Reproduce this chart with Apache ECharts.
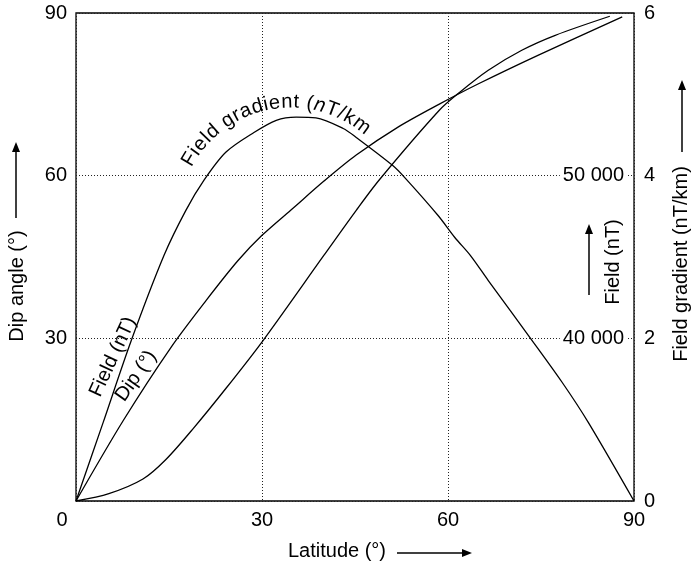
<!DOCTYPE html>
<html><head><meta charset="utf-8">
<script src="https://cdn.jsdelivr.net/npm/echarts@6/dist/echarts.min.js"></script>
<style>html,body{margin:0;padding:0;background:#fff}#c{width:695px;height:569px}</style>
</head><body><div id="c"></div>
<script>
const FONT = '"Liberation Sans", Arial, Helvetica, sans-serif';

// Tick values
const latTicks = [0, 30, 60, 90];
const dipTicks = [0, 30, 60, 90];
const gradTicks = [0, 2, 4, 6];
const fieldTicks = [40000, 50000];

// Field gradient (nT/km) vs latitude
const gradLat = [0, 4.4, 8.9, 14.2, 17.7, 20.7, 24.2, 28.7, 32.3, 35.5, 38.7, 43.1, 45.2, 51.0, 53.1, 58.4, 61.1, 63.6, 66.5, 73.6, 78.4, 82.6, 90];
const gradVal = [0, 0.97, 1.97, 3.02, 3.57, 3.95, 4.29, 4.53, 4.68, 4.72, 4.71, 4.58, 4.47, 4.13, 3.97, 3.51, 3.24, 3.02, 2.71, 1.97, 1.46, 0.97, 0];

// Dip angle (deg) vs latitude
const dipLat = [0, 7.6, 15.3, 21.0, 26.1, 30.0, 35.0, 40.0, 45.2, 52.0, 58.6, 65.0, 74.5, 88.1];
const dipVal = [0, 14.8, 28.3, 37.0, 44.3, 49.0, 54.0, 59.0, 63.8, 69.0, 73.2, 77.0, 82.2, 89.3];

// Field (nT) vs latitude
const fieldLat = [0, 5.3, 10.8, 14.5, 18.9, 24.2, 30.2, 40.0, 45.2, 49.0, 58.6, 61.9, 66.5, 71.9, 77.3, 86.1];
const fieldVal = [30000, 30450, 31350, 32550, 34450, 36930, 39880, 45110, 47870, 49780, 54020, 55130, 56480, 57710, 58630, 59800];

const pairs = (xs, ys) => xs.map((x, i) => [x, ys[i]]);
const lineStyle = { color: '#000', width: 1.3 };
const lab = { color: '#000', fontSize: 20, fontFamily: FONT };
const dotted = { show: true, lineStyle: { color: '#222', width: 1, type: [1, 2] } };
const fmtNum = v => String(v).replace(/\B(?=(\d{3})+(?!\d))/g, ' ');

function txt(text, x, y, rotDeg, extra) {
  return Object.assign({
    type: 'text', x: x, y: y, rotation: rotDeg * Math.PI / 180, silent: true,
    style: { text: text, fill: '#000', fontSize: 20, fontFamily: FONT, align: 'center', verticalAlign: 'middle' }
  }, extra || {});
}
function arrow(x1, y1, x2, y2) {
  const dx = x2 - x1, dy = y2 - y1, L = Math.hypot(dx, dy), ux = dx / L, uy = dy / L;
  const hl = 10, hw = 4;
  const bx = x2 - ux * hl, by = y2 - uy * hl;
  return [
    { type: 'line', silent: true, shape: { x1: x1, y1: y1, x2: bx, y2: by }, style: { stroke: '#000', lineWidth: 1.5 } },
    { type: 'polygon', silent: true, shape: { points: [[x2, y2], [bx - uy * hw, by + ux * hw], [bx + uy * hw, by - ux * hw]] }, style: { fill: '#000' } }
  ];
}

// Curved label along the gradient curve
function arcText(str, cx, cy, R, a0, a1, fontSize) {
  const ctx = document.createElement('canvas').getContext('2d');
  const els = [];
  const fonts = [];
  const widths = [];
  for (let i = 0; i < str.length; i++) {
    const italic = (str[i] === 'n' && str[i - 1] === '(');
    const f = (italic ? 'italic ' : '') + fontSize + 'px ' + FONT;
    ctx.font = f;
    fonts.push(italic);
    widths.push(ctx.measureText(str[i]).width);
  }
  const total = widths.reduce((a, b) => a + b, 0);
  const arcLen = (a1 - a0) * R;
  const extra = (arcLen - total) / (str.length - 1);
  let s = 0;
  for (let i = 0; i < str.length; i++) {
    const sc = s + widths[i] / 2;
    const th = a0 + sc / R;
    const rr = R + 6.5;
    els.push({
      type: 'text', silent: true,
      x: cx + rr * Math.cos(th), y: cy + rr * Math.sin(th),
      rotation: -(th + Math.PI / 2),
      style: { text: str[i], fill: '#000', fontSize: fontSize, fontFamily: FONT, fontStyle: fonts[i] ? 'italic' : 'normal', align: 'center', verticalAlign: 'middle' }
    });
    s += widths[i] + extra;
  }
  return els;
}

const cx = 291, cy = 220, R = 111.5;
const a0 = Math.atan2(168 - cy, 192 - cx);
const a1 = Math.atan2(135 - cy, 365 - cx);

const graphic = [].concat(
  [txt('Dip angle (°)', 17, 286, 90)],
  arrow(16, 218, 16, 142),
  [txt('Latitude (°)', 337, 551, 0)],
  arrow(397, 553, 472, 553),
  [txt('Field gradient (nT/km)', 681, 264, 90)],
  arrow(682, 152, 682, 80),
  [txt('Field (nT)', 613, 262, 90)],
  arrow(589, 295, 589, 224),
  [txt('Field (nT)', 113, 357, 65)],
  [txt('Dip (°)', 136, 376, 55)],
  arcText('Field gradient (nT/km', cx, cy, R, a0, a1, 20)
);

const chart = echarts.init(document.getElementById('c'));
chart.setOption({
  animation: false,
  grid: { left: 76, top: 13, right: 61, bottom: 68, show: true, borderColor: '#000', borderWidth: 1.3 },
  xAxis: {
    type: 'value', min: latTicks[0], max: latTicks[latTicks.length - 1], interval: 30,
    axisLine: { show: false }, axisTick: { show: false }, splitLine: dotted,
    axisLabel: Object.assign({}, lab, {
      margin: 9,
      formatter: v => v === 0 ? '{z|0}' : String(v),
      rich: { z: Object.assign({}, lab, { padding: [0, 28, 0, 0] }) }
    })
  },
  yAxis: [
    {
      type: 'value', position: 'left', min: dipTicks[0], max: dipTicks[dipTicks.length - 1], interval: 30,
      axisLine: { show: false }, axisTick: { show: false }, splitLine: dotted,
      axisLabel: Object.assign({}, lab, { margin: 9, showMinLabel: false })
    },
    {
      type: 'value', position: 'right', min: gradTicks[0], max: gradTicks[gradTicks.length - 1], interval: 2,
      axisLine: { show: false }, axisTick: { show: false }, splitLine: { show: false },
      axisLabel: Object.assign({}, lab, { margin: 10 })
    },
    {
      type: 'value', position: 'right', min: 30000, max: 60000, interval: 10000,
      axisLine: { show: false }, axisTick: { show: false }, splitLine: { show: false },
      axisLabel: {
        inside: true, margin: 7,
        formatter: v => fieldTicks.indexOf(v) >= 0 ? '{b|' + fmtNum(v) + '}' : '',
        rich: { b: Object.assign({}, lab, { backgroundColor: '#fff', padding: [1, 3, 1, 3] }) }
      }
    }
  ],
  series: [
    { name: 'Field gradient', type: 'line', yAxisIndex: 1, data: pairs(gradLat, gradVal), showSymbol: false, smooth: 0.3, lineStyle: lineStyle, z: 3 },
    { name: 'Dip', type: 'line', yAxisIndex: 0, data: pairs(dipLat, dipVal), showSymbol: false, smooth: 0.3, lineStyle: lineStyle, z: 3 },
    { name: 'Field', type: 'line', yAxisIndex: 2, data: pairs(fieldLat, fieldVal), showSymbol: false, smooth: 0.3, lineStyle: lineStyle, z: 3 }
  ],
  graphic: graphic
});
</script></body></html>
